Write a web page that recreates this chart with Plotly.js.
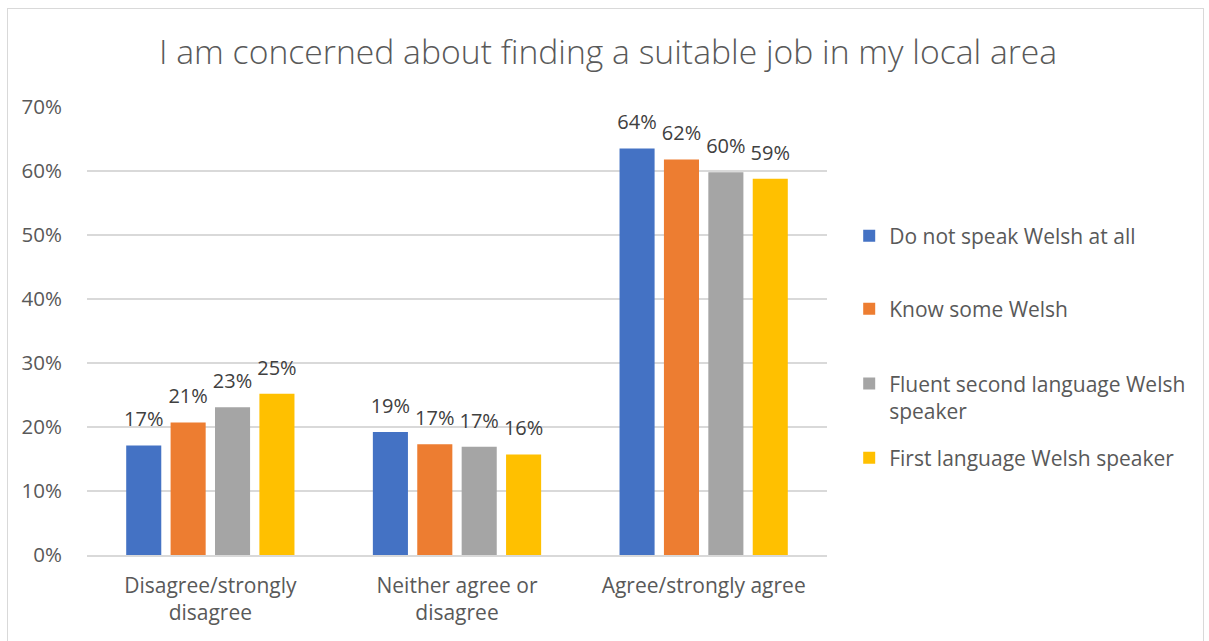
<!DOCTYPE html>
<html>
<head>
<meta charset="utf-8">
<script src="https://cdn.plot.ly/plotly-3.0.1.min.js"></script>
<style>
html,body{margin:0;padding:0;background:#fff;}
#chart{position:absolute;left:0;top:0;width:1209px;height:641px;}
#frame{position:absolute;left:7px;top:8px;width:1195px;height:640px;border:1px solid #d9d9d9;pointer-events:none;}
</style>
</head>
<body>
<div id="chart"></div>
<div id="frame"></div>
<script>
const categories = ["Disagree/strongly<br>disagree", "Neither agree or<br>disagree", "Agree/strongly agree"];
const seriesNames = ["Do not speak Welsh at all", "Know some Welsh", "Fluent second language Welsh<br>speaker", "First language Welsh speaker"];
const doNotSpeak = [0.171, 0.192, 0.635];
const knowSome = [0.207, 0.173, 0.618];
const fluentSecond = [0.231, 0.169, 0.598];
const firstLanguage = [0.252, 0.157, 0.588];
const colors = ["#4472C4", "#ED7D31", "#A5A5A5", "#FFC000"];
const yTickVals = [0, 0.1, 0.2, 0.3, 0.4, 0.5, 0.6, 0.7];

const font = "'Open Sans', Lato, sans-serif";
const legendIds = ["legend", "legend2", "legend3", "legend4"];
const legendY = [0.712, 0.549, 0.352, 0.2165];
const allSeries = [doNotSpeak, knowSome, fluentSecond, firstLanguage];
const barTraces = allSeries.map((vals, i) => ({
  type: "bar",
  x: categories,
  y: vals,
  name: seriesNames[i],
  legend: legendIds[i],
  marker: {color: colors[i]},
  hoverinfo: "skip"
}));
const labelTraces = allSeries.map((vals, i) => ({
  type: "scatter",
  mode: "markers+text",
  x: categories,
  y: vals,
  showlegend: false,
  marker: {size: 21, opacity: 0, color: colors[i]},
  texttemplate: "%{y:.0%}",
  textposition: "top center",
  cliponaxis: false,
  textfont: {family: font, size: 20, color: "#404040"},
  hoverinfo: "skip"
}));

const layout = {
  width: 1209, height: 641,
  margin: {l: 87, r: 382, t: 107, b: 86},
  paper_bgcolor: "#fff", plot_bgcolor: "#fff",
  title: {text: "I am concerned about finding a suitable job in my local area",
          font: {family: font, size: 33.7, color: "#595959", weight: 300},
          x: 0.503, xanchor: "center", y: 0.918, yanchor: "middle"},
  barmode: "group",
  bargap: 0.28,
  bargroupgap: 0.21,
  scattermode: "group",
  scattergap: 0.28,
  showlegend: true,
  xaxis: {tickfont: {family: font, size: 21, color: "#595959"},
          ticks: "outside", ticklen: 11, tickcolor: "rgba(0,0,0,0)",
          showline: true, linecolor: "#d9d9d9", linewidth: 1.5, fixedrange: true},
  yaxis: {range: [0, 0.7], tickvals: yTickVals, tickformat: ".0%",
          tickfont: {family: font, size: 20.5, color: "#595959"},
          ticks: "outside", ticklen: 20, tickcolor: "rgba(0,0,0,0)",
          showgrid: true, gridcolor: "#d9d9d9", gridwidth: 1.5,
          zeroline: false, showline: false, fixedrange: true}
};
legendIds.forEach((id, i) => {
  layout[id] = {x: 1.03, xanchor: "left", y: legendY[i], yanchor: "middle",
                font: {family: font, size: 21, color: "#595959"},
                itemwidth: 30, valign: "top", bgcolor: "rgba(0,0,0,0)"};
});

Plotly.newPlot("chart", barTraces.concat(labelTraces), layout, {displayModeBar: false, staticPlot: true});
</script>
</body>
</html>
